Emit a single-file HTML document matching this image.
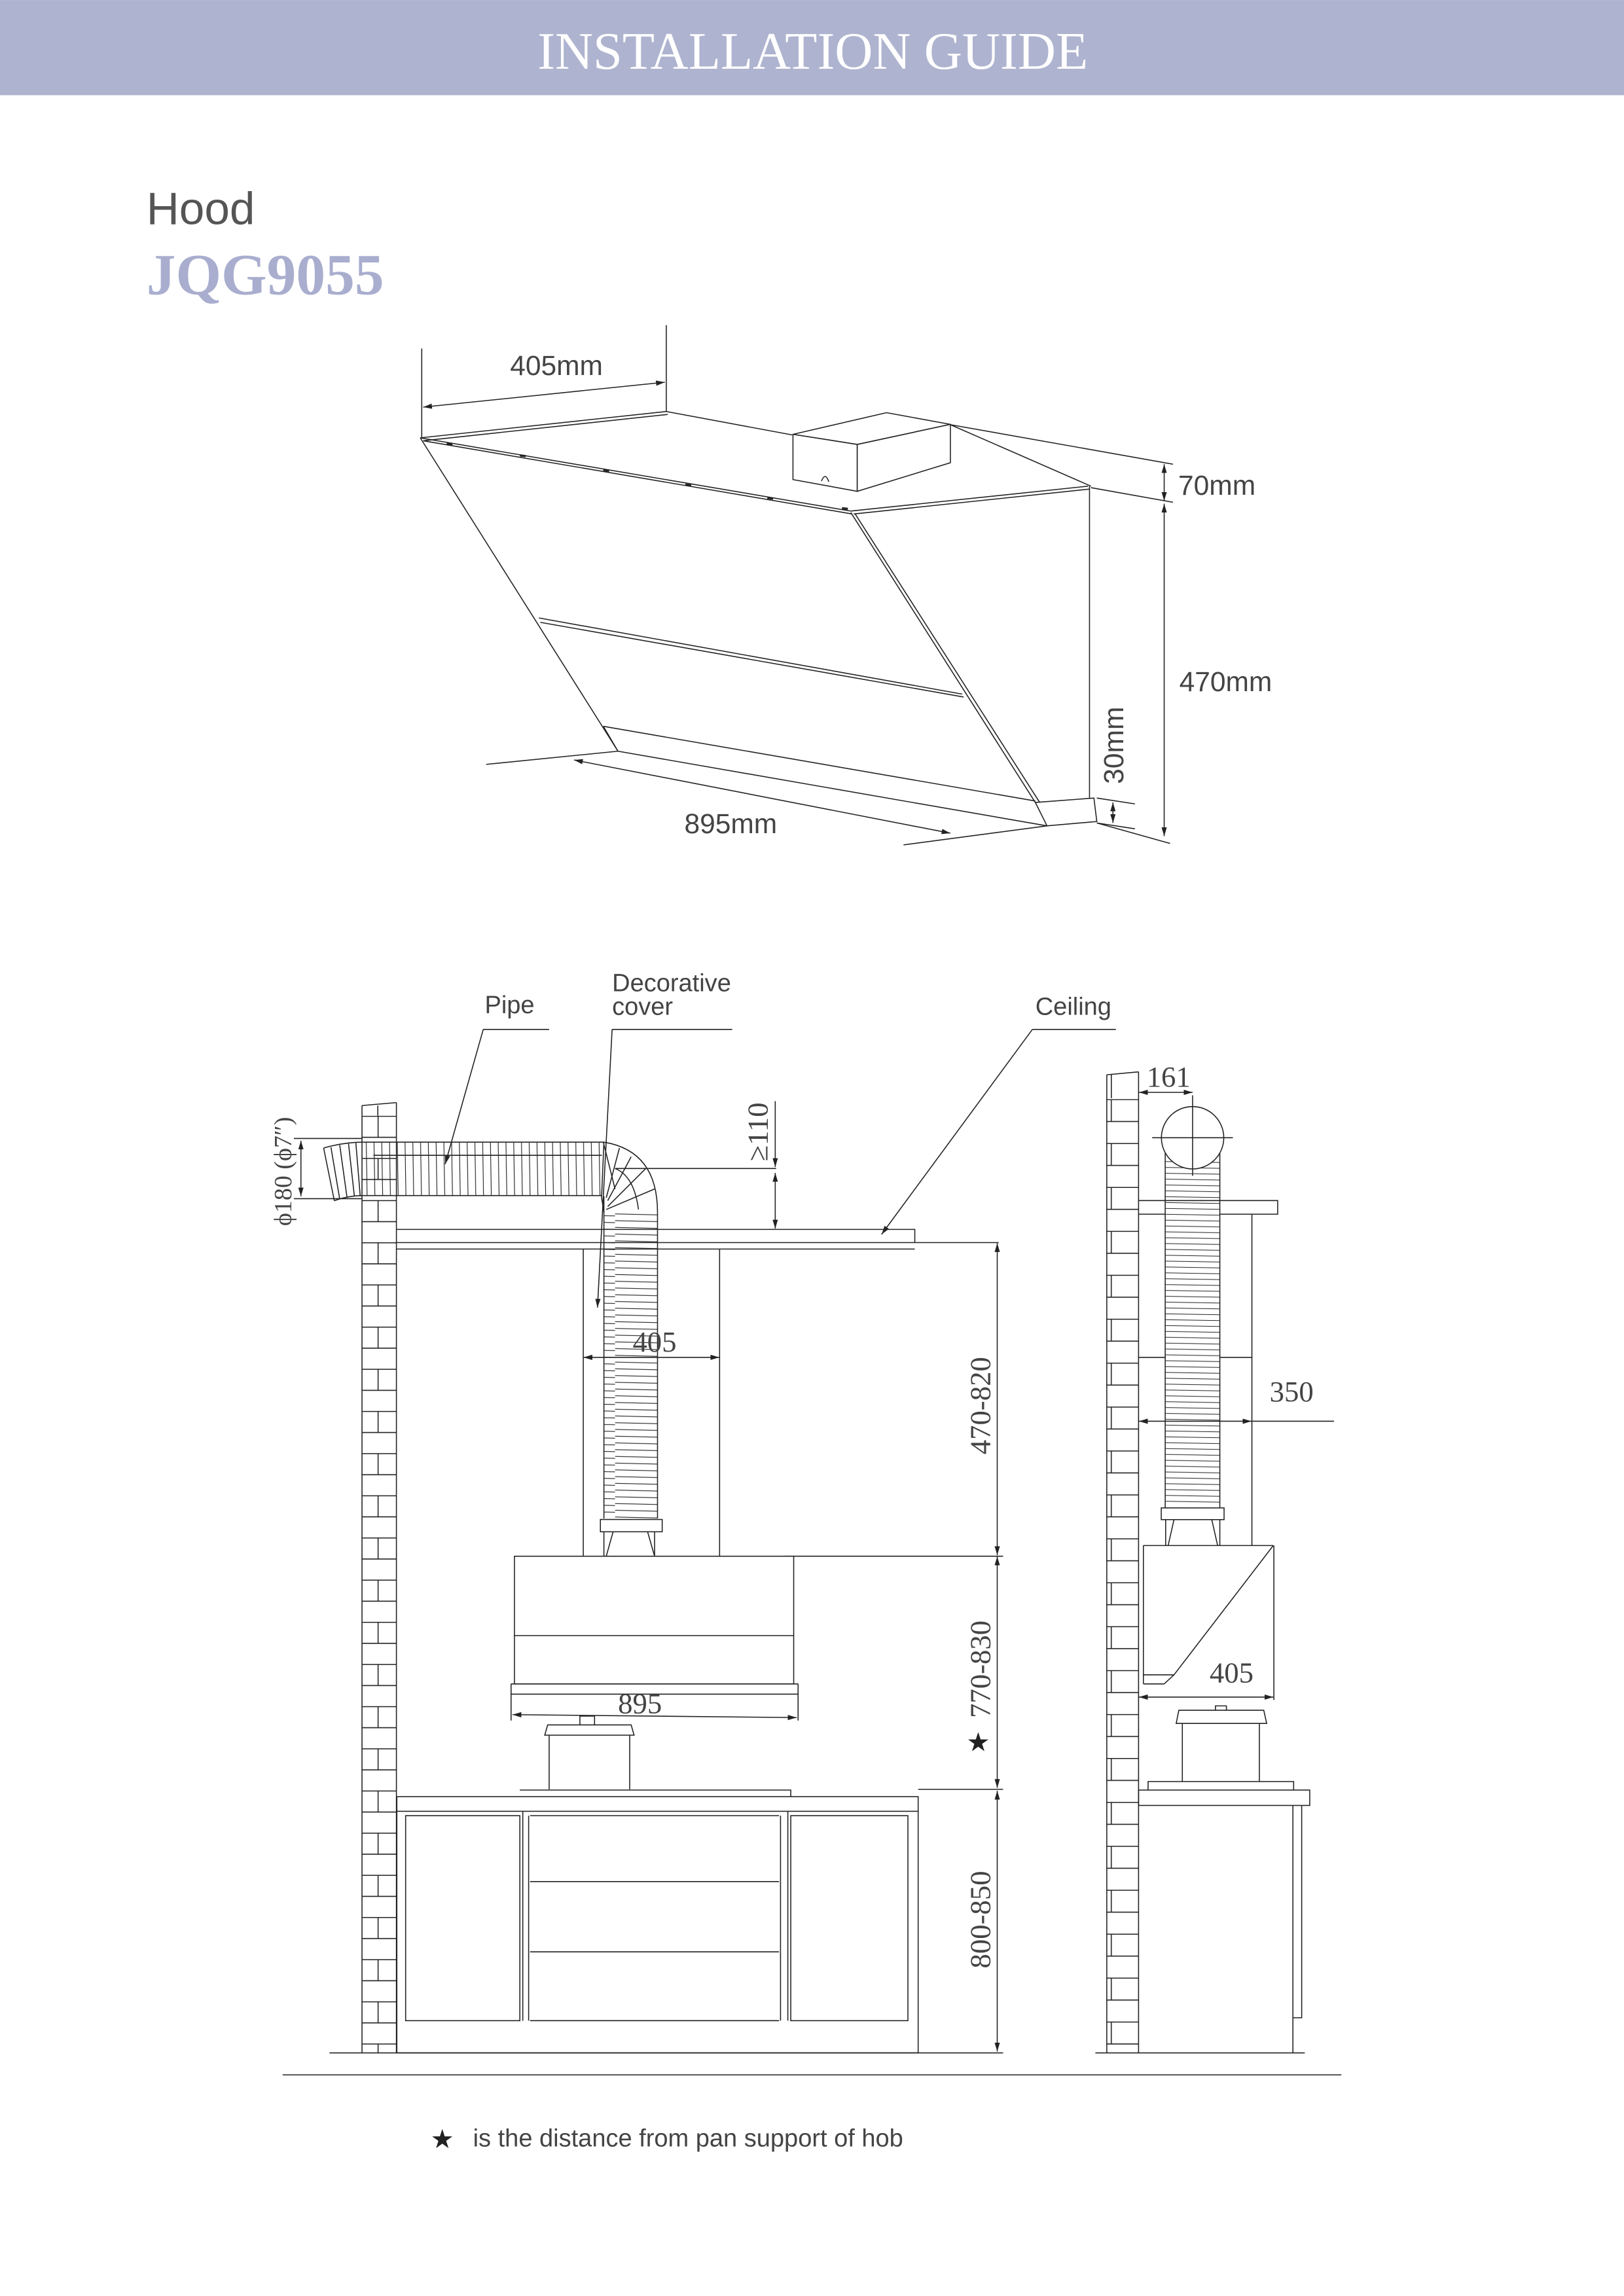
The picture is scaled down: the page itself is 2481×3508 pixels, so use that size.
<!DOCTYPE html>
<html><head><meta charset="utf-8">
<style>
html,body{margin:0;padding:0;background:#fff;}
svg{display:block;}
.s{font-family:"Liberation Sans",sans-serif;fill:#444;}
.r{font-family:"Liberation Serif",serif;fill:#444;}
</style></head><body>
<svg width="2481" height="3508" viewBox="0 0 1109 1568" xmlns="http://www.w3.org/2000/svg">
<defs>
<marker id="a" viewBox="0 0 10 10" refX="10" refY="5" markerWidth="6" markerHeight="6" orient="auto-start-reverse" markerUnits="userSpaceOnUse"><path d="M0,2 L10,5 L0,8 z" fill="#222"/></marker>
<pattern id="bk1" patternUnits="userSpaceOnUse" x="247.2" y="762" width="23.5" height="28.8">
<path d="M0,0.3H23.5 M0,14.7H23.5 M11,0V14.4" stroke="#222" stroke-width="0.7" fill="none"/></pattern>
<pattern id="bk2" patternUnits="userSpaceOnUse" x="755.8" y="750.6" width="21.7" height="30">
<path d="M0,0.3H21.7 M0,15.3H21.7 M3.1,0V15" stroke="#222" stroke-width="0.7" fill="none"/></pattern>
<pattern id="rh" patternUnits="userSpaceOnUse" x="0" y="0" width="5.3" height="60">
<path d="M1,0 L2,60" stroke="#222" stroke-width="0.5"/></pattern>
<pattern id="rv" patternUnits="userSpaceOnUse" x="0" y="0" width="60" height="4.6">
<path d="M0,1 L60,2.4" stroke="#222" stroke-width="0.5"/></pattern>
<pattern id="rv2" patternUnits="userSpaceOnUse" x="0" y="0" width="60" height="4">
<path d="M0,1 L60,2" stroke="#222" stroke-width="0.45"/></pattern>
</defs>

<rect x="0" y="0" width="1109" height="65" fill="#aeb3cf"/>
<text x="555" y="47" text-anchor="middle" font-family="Liberation Serif,serif" font-size="36" fill="#fff">INSTALLATION GUIDE</text>
<text x="100" y="153" class="s" font-size="31" style="fill:#555">Hood</text>
<text x="100" y="201" font-family="Liberation Serif,serif" font-weight="bold" font-size="40" fill="#a9aecf">JQG9055</text>

<g stroke="#222" stroke-width="0.7" fill="none">
<path d="M288,238V299 M455,222V281"/>
<path d="M289,278L454,261" marker-start="url(#a)" marker-end="url(#a)"/>
<path d="M455,281L541,297 M649,290L745,332"/>
<path d="M287,299L581,349 M289,301L582,351"/>
<path d="M287,299L455,281 M289,301L456,283"/>
<path d="M581,349L743,332 M583,351L744,334"/>
<path d="M744,332V545"/>
<path d="M581,350L707,548 M584,351L710,548"/>
<path d="M287,299L422,513"/>
<path d="M368,422L657,474 M369,425L658,476"/>
<path d="M412,496L707,547 M422,513L715,564 M412,496L422,513"/>
<path d="M707,548L747,545L749,561L715,564Z"/>
<path d="M749,545L775,549 M749,562L775,566"/>
<path d="M760,548V562" marker-start="url(#a)" marker-end="url(#a)"/>
<path d="M649,290L801,317 M745,333L801,343"/>
<path d="M795,317V342" marker-start="url(#a)" marker-end="url(#a)"/>
<path d="M795,344V571" marker-start="url(#a)" marker-end="url(#a)"/>
<path d="M749,562L799,576"/>
<path d="M332,522L422,513 M617,577L715,564"/>
<path d="M392,519L649,569" marker-start="url(#a)" marker-end="url(#a)"/>
<path d="M541.5,296.6L605.4,281.8L649,289.8L585.4,303.5Z" fill="#fff"/>
<path d="M541.5,296.6V327.5L585.4,335.5V303.5Z" fill="#fff"/>
<path d="M585.4,303.5L649,289.8V316L585.4,335.5Z" fill="#fff"/>
<path d="M561,328.5Q563.5,322 566,329"/>
<path d="M305,303l4,0.5 M355,311l4,0.5 M412,321l4,0.5 M468,331l4,0.5 M524,340l4,0.5 M575,347l4,0.5" stroke-width="1.5"/>
</g>
<text x="380" y="256" class="s" font-size="19" text-anchor="middle">405mm</text>
<text x="831" y="338" class="s" font-size="19" text-anchor="middle">70mm</text>
<text x="837" y="472" class="s" font-size="19" text-anchor="middle">470mm</text>
<text x="499" y="569" class="s" font-size="19" text-anchor="middle">895mm</text>
<text transform="translate(767,509) rotate(-90)" class="s" font-size="19" text-anchor="middle">30mm</text>

<g stroke="#222" stroke-width="0.7" fill="none">
<rect x="247.2" y="762" width="23.5" height="640" fill="url(#bk1)" stroke="none"/>
<path d="M247.2,755V1402 M270.7,753V1402 M247.2,755L270.7,753"/>
<path d="M258,755V762"/>
<path d="M270.7,839.6H624.7V848.6H270.7 M270.7,853H624.7 M624.7,848.6H682"/>
<path d="M398.3,853V1062.8 M491.4,853V1062.8"/>
<rect x="247.8" y="780" width="164.6" height="36.5" fill="url(#rh)" stroke="none"/>
<path d="M247.8,780H412.4 M247.8,816.5H410.8"/>
<path d="M221,784Q235,780 247.8,780 M228.3,820Q238,816.5 247.8,816.5 M221,784L228.3,820"/>
<path d="M226,783.5L232,819 M232,782L237,818 M238,781L242,817 M243,780.5L246,817"/>
<path d="M255,789H411"/>
<path d="M412.4,780Q449,786 449,828 M410.8,817.8L412.4,828"/>
<path d="M412.4,780L410.8,817.8 M412,780L420,812 M423,784L414,818 M431,790L415,820 M441,798L415,824 M447,812L414,826 M420,798Q433,803 436,826"/>
<rect x="412.4" y="828" width="36.7" height="209" fill="url(#rv)" stroke="none"/>
<path d="M412.4,817V1037 M449,828V1037"/>
<rect x="410" y="1037.7" width="42.2" height="8.4" fill="#fff"/>
<path d="M412.4,1046V1062.8 M418.7,1046L414,1062.8 M442.2,1046L447,1062.8 M447,1046V1062.8"/>
<rect x="351.3" y="1062.8" width="190.7" height="87.2" fill="#fff"/>
<path d="M351.3,1117H542 M349,1150H545 M349,1150V1157H545V1150 M349,1157V1175 M545,1157V1175 M536,1062.8H685"/>
<path d="M350,1171L544,1173" marker-start="url(#a)" marker-end="url(#a)"/>
<path d="M396,1178V1172H406V1178 M372,1185L374,1178H431L433,1185Z M375,1185V1222 M430,1185V1222"/>
<path d="M355,1222.5H540V1227"/>
<rect x="271" y="1227" width="356" height="10"/>
<path d="M271,1237V1402 M627,1237V1402 M271,1402H627"/>
<rect x="277" y="1240" width="78" height="140"/>
<rect x="540" y="1240" width="80" height="140"/>
<path d="M357,1237V1380 M361,1240V1380 M533,1240V1380 M538,1237V1380"/>
<path d="M362,1240H532 M362,1285H532 M362,1333H532 M362,1380H532"/>
<path d="M627,1222H685 M225,1402H685 M193,1417H916"/>
<path d="M681,849V1062" marker-start="url(#a)" marker-end="url(#a)"/>
<path d="M681,1063V1221" marker-start="url(#a)" marker-end="url(#a)"/>
<path d="M681,1223V1401" marker-start="url(#a)" marker-end="url(#a)"/>
<path d="M398.5,927H491.2" marker-start="url(#a)" marker-end="url(#a)"/>
<path d="M420,798H530"/>
<path d="M529.4,752V797" marker-end="url(#a)"/>
<path d="M529.4,801V839" marker-start="url(#a)" marker-end="url(#a)"/>
<path d="M200.7,777.5H247 M200.7,818.6H247"/>
<path d="M205.5,779V817" marker-start="url(#a)" marker-end="url(#a)"/>
<path d="M330,703H375 M418,703H500 M705,703H762"/>
<path d="M330,703L304,795" marker-end="url(#a)"/>
<path d="M418,703L408,893" marker-end="url(#a)"/>
<path d="M705,703L602,843" marker-end="url(#a)"/>

<rect x="755.8" y="750.6" width="21.7" height="651" fill="url(#bk2)" stroke="none"/>
<path d="M755.8,734V1402 M777.5,732V1402 M755.8,734L777.5,732 M758.9,734V750"/>
<path d="M748,1402H891"/>
<path d="M777.8,746H814.4" marker-start="url(#a)" marker-end="url(#a)"/>
<rect x="795.7" y="790" width="37.3" height="239" fill="url(#rv2)" stroke="none"/>
<path d="M795.7,786V1029.8 M833,786V1029.8"/>
<circle cx="814.4" cy="777" r="21.3" fill="#fff"/>
<path d="M786.8,777H841.9 M814.4,748V803"/>
<path d="M777.5,819.9H872.5V829.2H833 M795.7,829.2H777.5"/>
<path d="M854.9,829.2V1055.5 M777.5,927H795.7 M833,927H854.9"/>
<path d="M777.8,970.6H854.6" marker-start="url(#a)" marker-end="url(#a)"/>
<path d="M854.6,970.6H911"/>
<rect x="793" y="1029.8" width="42.9" height="8" fill="#fff"/>
<path d="M796,1037.8V1055.5 M833,1037.8V1055.5 M801.7,1037.8L797.7,1055.5 M827.5,1037.8L831.5,1055.5"/>
<path d="M780.8,1055.5H869.5 M780.8,1055.5V1150 M869.9,1055.5V1161 M869.5,1055.5L801.7,1143.8 M780.8,1143.8H801.7 M795,1150H780.8 M801.7,1143.8L795,1150"/>
<path d="M777.8,1159H869.5" marker-start="url(#a)" marker-end="url(#a)"/>
<path d="M830,1168V1165H837.5V1168 M803.2,1177L805,1168H863L865,1177Z M807.4,1177V1216.7 M860,1177V1216.7"/>
<path d="M784,1222.5V1216.7H883.4V1222.5"/>
<rect x="777.5" y="1222.5" width="116.9" height="10.5"/>
<path d="M882.9,1233V1402 M888.9,1233V1378H882.9"/>
</g>

<g class="s" font-size="17">
<text x="348" y="692" text-anchor="middle">Pipe</text>
<text x="418" y="677">Decorative</text>
<text x="418" y="693">cover</text>
<text x="733" y="693" text-anchor="middle">Ceiling</text>
</g>
<g class="r" font-size="20">
<text x="447" y="923" text-anchor="middle">405</text>
<text x="437" y="1170" text-anchor="middle">895</text>
<text x="798" y="742" text-anchor="middle">161</text>
<text x="882" y="957" text-anchor="middle">350</text>
<text x="841" y="1149" text-anchor="middle">405</text>
<text transform="translate(524,773) rotate(-90)" text-anchor="middle">≥110</text>
<text transform="translate(676,960) rotate(-90)" text-anchor="middle">470-820</text>
<text transform="translate(676,1140) rotate(-90)" text-anchor="middle">770-830</text>
<text transform="translate(676,1311) rotate(-90)" text-anchor="middle">800-850</text>
<text transform="translate(199,800) rotate(-90)" text-anchor="middle" font-size="17">ϕ180 (ϕ7″)</text>
</g>
<text x="668" y="1196" text-anchor="middle" font-size="18" fill="#222" font-family="DejaVu Sans,sans-serif">★</text>
<text x="302" y="1467" text-anchor="middle" font-size="18" fill="#222" font-family="DejaVu Sans,sans-serif">★</text>
<text x="323" y="1466" class="s" font-size="17">is the distance from pan support of hob</text>
</svg>
</body></html>
